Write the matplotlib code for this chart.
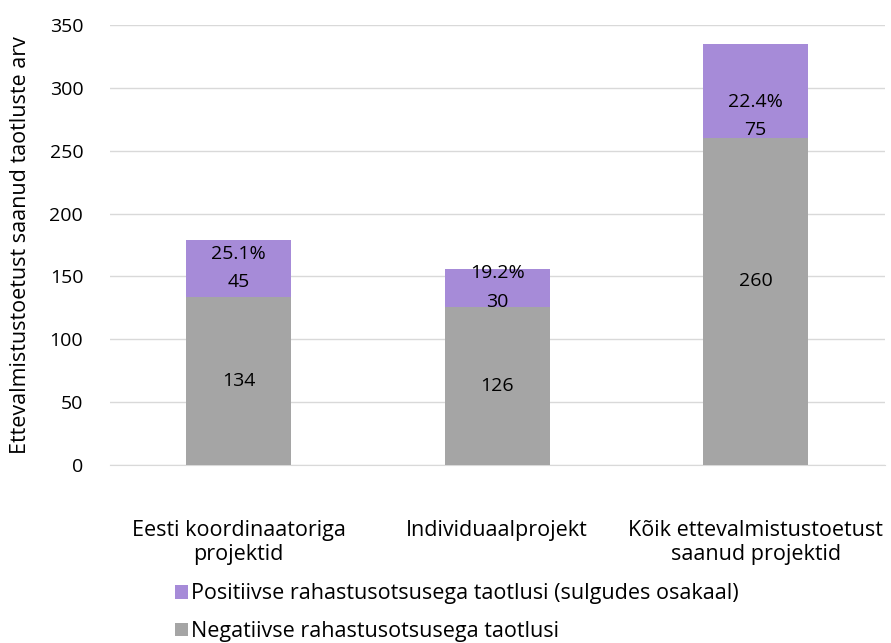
"""
Ettevalmistustoetust saanud taotluste arv, jagatud rahastusotsuse järgi
"""

from matplotlib import pyplot as plt
import numpy as np

plt.rcParams['font.family'] = ['Open Sans', 'DejaVu Sans']

# andmed
categories = ['Eesti koordinaatoriga\nprojektid', 'Individuaalprojekt',
              'Kõik ettevalmistustoetust\nsaanud projektid']
negative = [134, 126, 260]
positive = [45, 30, 75]
positive_share = ['25.1%', '19.2%', '22.4%']

GRAY = '#A5A5A5'
PURPLE = '#A68BD8'
GRID = '#D9D9D9'
FS_TEXT = 15.5
FS_NUM = 14

fig = plt.figure(figsize=(8.91, 6.43), dpi=100)
ax = fig.add_axes([0.123, 0.277, 0.870, 0.684])

x = np.arange(len(categories))
w = 0.405
b_neg = ax.bar(x, negative, w, color=GRAY, zorder=3,
               label='Negatiivse rahastusotsusega taotlusi')
b_pos = ax.bar(x, positive, w, bottom=negative, color=PURPLE, zorder=3,
               label='Positiivse rahastusotsusega taotlusi (sulgudes osakaal)')

# label nudges (data units) to mimic the original placement
neg_shift = [0, 0, 16]
pos_shift = [0, 0, -20]
for i in range(len(x)):
    ax.text(x[i], negative[i] / 2 + neg_shift[i], str(negative[i]),
            ha='center', va='center', fontsize=FS_NUM, zorder=4)
    yc = negative[i] + positive[i] / 2 + pos_shift[i]
    ax.text(x[i], yc, positive_share[i] + '\n' + str(positive[i]),
            ha='center', va='center', fontsize=FS_NUM, linespacing=1.75, zorder=4)

ax.set_xlim(-0.5, len(categories) - 0.5)
ax.set_ylim(0, 350)
ax.set_yticks(np.arange(0, 351, 50))
ax.yaxis.grid(True, color=GRID, linewidth=1, zorder=0)
ax.set_xticks(x)
ax.set_xticklabels(categories, fontsize=FS_TEXT, linespacing=1.15)
ax.tick_params(axis='y', length=0, labelsize=FS_NUM, pad=19)
ax.tick_params(axis='x', length=0, pad=40)
for s in ['top', 'right', 'left']:
    ax.spines[s].set_visible(False)
ax.spines['bottom'].set_color(GRID)
ax.set_ylabel('Ettevalmistustoetust saanud taotluste arv', fontsize=FS_TEXT, labelpad=13)

fig.legend([b_pos, b_neg],
           ['Positiivse rahastusotsusega taotlusi (sulgudes osakaal)',
            'Negatiivse rahastusotsusega taotlusi'],
           loc='upper left', bbox_to_anchor=(0.187, 0.106), frameon=False,
           fontsize=FS_TEXT, handlelength=0.6, handleheight=0.6, handletextpad=0.15,
           labelspacing=0.78, borderaxespad=0)

fig.savefig('out.png', dpi=100)
